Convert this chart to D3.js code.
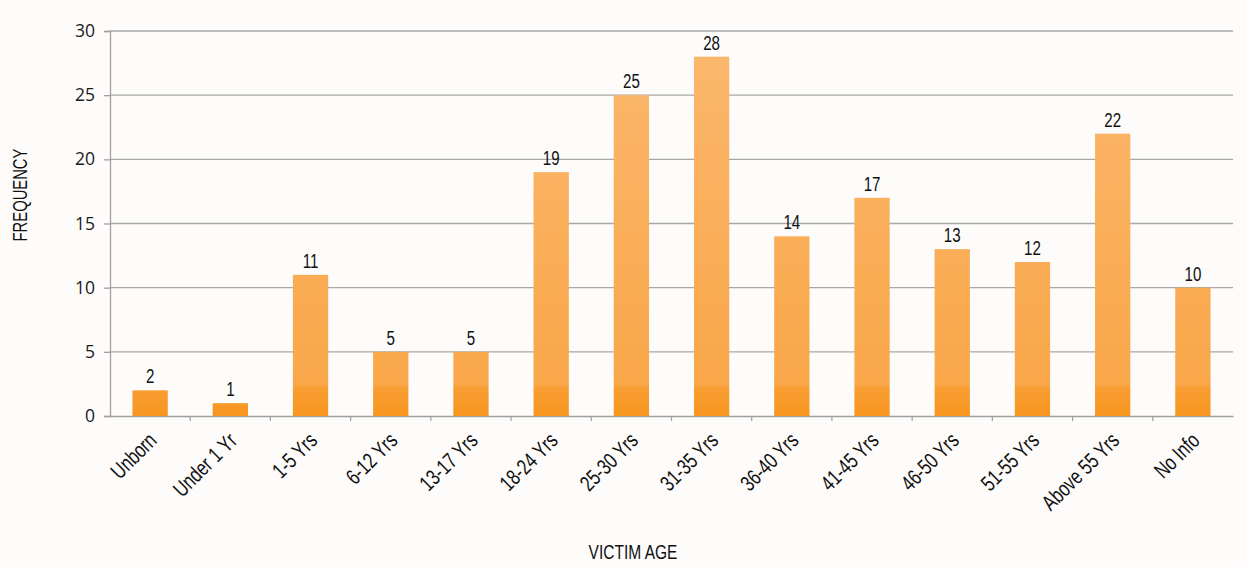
<!DOCTYPE html>
<html><head><meta charset="utf-8">
<script src="https://cdn.jsdelivr.net/npm/d3@7/dist/d3.min.js"></script>
<style>
body{margin:0;background:#fdfcfb;}
.cond{font-family:"Liberation Sans",Arial,sans-serif;}
</style></head><body>
<svg id="c" width="1247" height="567"></svg>
<script>
const categories = ["Unborn","Under 1 Yr","1-5 Yrs","6-12 Yrs","13-17 Yrs","18-24 Yrs","25-30 Yrs","31-35 Yrs","36-40 Yrs","41-45 Yrs","46-50 Yrs","51-55 Yrs","Above 55 Yrs","No Info"];
const frequency = [2,1,11,5,5,19,25,28,14,17,13,12,22,10];
const yTicks = [0,5,10,15,20,25,30];
const xTitle = "VICTIM AGE";
const yTitle = "FREQUENCY";

const svg = d3.select("#c");
const m = {l:110, r:1233, t:31, b:416};
const x = d3.scaleBand().domain(categories).range([m.l, m.r]).paddingInner(0.56).paddingOuter(0.28);
const y = d3.scaleLinear().domain([0,30]).range([m.b, m.t]);
const SX = 0.72;

const defs = svg.append("defs");
const g = defs.append("linearGradient").attr("id","bg").attr("x1",0).attr("x2",0).attr("gradientUnits","userSpaceOnUse")
  .attr("y1", m.t).attr("y2", m.b);
g.append("stop").attr("offset","0%").attr("stop-color","#fbb86f");
g.append("stop").attr("offset","92%").attr("stop-color","#f9a749");
g.append("stop").attr("offset","92.5%").attr("stop-color","#f89e34");
g.append("stop").attr("offset","100%").attr("stop-color","#f7961f");

// gridlines
svg.append("g").selectAll("line").data(yTicks.filter(d=>d>0)).join("line")
  .attr("x1", m.l).attr("x2", m.r).attr("y1", d=>y(d)).attr("y2", d=>y(d))
  .attr("stroke","#a8a8a8").attr("stroke-width",1.3);

// y axis
const ya = svg.append("g").attr("transform",`translate(${m.l},0)`)
  .call(d3.axisLeft(y).tickValues(yTicks).tickSize(6).tickPadding(9));
ya.select(".domain").attr("stroke","#a0a0a0").attr("stroke-width",1.3);
ya.selectAll(".tick line").attr("stroke","#a0a0a0").attr("stroke-width",1.3);
ya.selectAll("text").attr("font-family","'Open Sans',sans-serif").attr("font-size",17.5).attr("fill","#1a1a1a");

// x axis
const xa = svg.append("g").attr("transform",`translate(0,${m.b})`)
  .call(d3.axisBottom(x).tickSize(0).tickFormat(""));
xa.select(".domain").attr("stroke","#a0a0a0").attr("stroke-width",1.3);
const step = x.step();
svg.append("g").selectAll("line").data(categories.slice(1)).join("line")
  .attr("x1", d=>x(d)-x.paddingInner()*step/2).attr("x2", d=>x(d)-x.paddingInner()*step/2)
  .attr("y1", m.b).attr("y2", m.b+5).attr("stroke","#a0a0a0").attr("stroke-width",1.2);

// bars
svg.append("g").selectAll("rect").data(frequency).join("rect")
  .attr("x",(d,i)=>x(categories[i])).attr("width",x.bandwidth())
  .attr("y",d=>y(d)).attr("height",d=>y(0)-y(d)).attr("fill","url(#bg)");

// value labels
svg.append("g").selectAll("text").data(frequency).join("text").attr("class","cond")
  .attr("transform",(d,i)=>`translate(${x(categories[i])+x.bandwidth()/2},${y(d)-7}) scale(${SX},1)`)
  .attr("text-anchor","middle").attr("font-size",21).attr("fill","#111").text(d=>d);

// category labels
svg.append("g").selectAll("text").data(categories).join("text").attr("class","cond")
  .attr("transform",d=>`translate(${x(d)+x.bandwidth()/2+8},${m.b+26}) rotate(-45) scale(0.75,1)`)
  .attr("text-anchor","end").attr("font-size",22).attr("fill","#111").text(d=>d);

// titles
svg.append("text").attr("class","cond").attr("transform","translate(633,559) scale(0.74,1)").attr("text-anchor","middle")
  .attr("font-size",21).attr("fill","#111").text(xTitle);
svg.append("text").attr("class","cond").attr("transform","translate(27,195) rotate(-90) scale(0.74,1)").attr("text-anchor","middle")
  .attr("font-size",20).attr("fill","#111").text(yTitle);
</script></body></html>
